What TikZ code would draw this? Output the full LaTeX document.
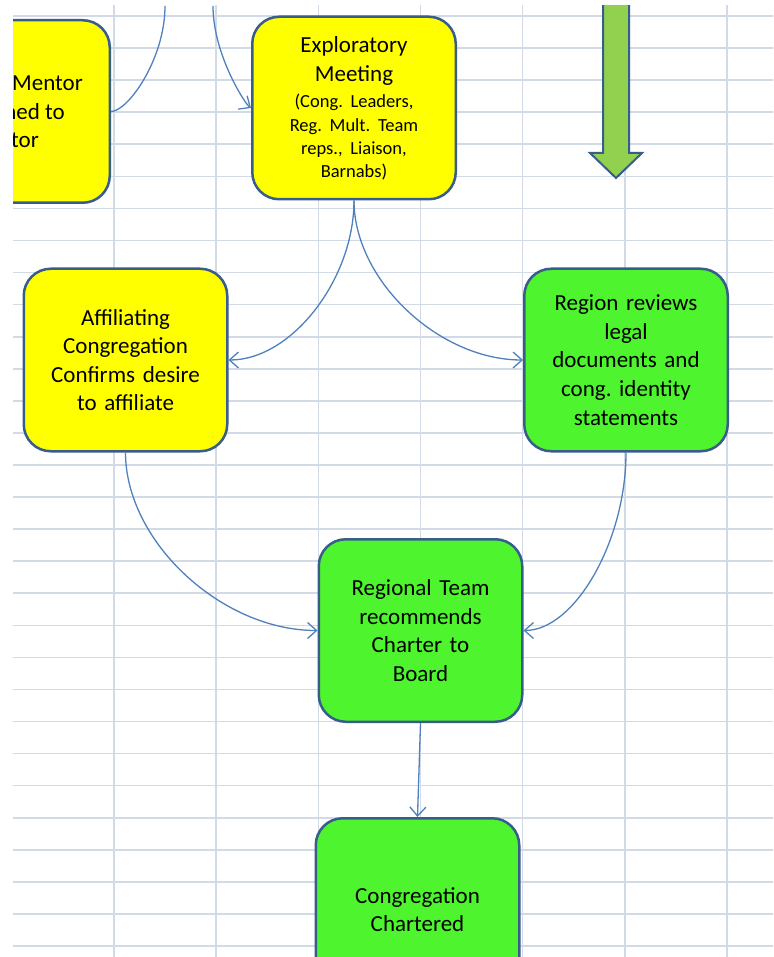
\documentclass[tikz,border=0pt]{standalone}
\usepackage{fontspec}
\setmainfont{Carlito}
\usetikzlibrary{arrows.meta}
\definecolor{gridc}{RGB}{210,217,231}
\definecolor{bordc}{RGB}{56,93,138}
\definecolor{yel}{RGB}{255,255,0}
\definecolor{grn}{RGB}{78,245,46}
\definecolor{agrn}{RGB}{146,208,80}
\definecolor{conc}{RGB}{79,129,189}
\begin{document}
\frenchspacing
\begin{tikzpicture}[x=1pt,y=-1pt,
  gridline/.style={draw=gridc,line width=1.6pt},
  box/.style={draw=bordc,line width=2.5pt,rounded corners=27pt,
    minimum width=203.5pt,minimum height=182.5pt,inner sep=0pt,
    text width=195pt,align=center,
    execute at begin node={\parindent=0pt\frenchspacing},
    font=\fontsize{23}{28.6}\selectfont},
  ybox/.style={box,fill=yel},
  gbox/.style={box,fill=grn},
  conn/.style={draw=conc,line width=1.3pt},
  arr/.style={conn,-{Straight Barb[length=9pt,width=16pt]}},
  frag/.style={anchor=base east,inner sep=0pt,font=\fontsize{23}{28.6}\selectfont},
  bigarrow/.style={draw=bordc,line width=2pt,fill=agrn,line join=miter}
]
\useasboundingbox (0,0) rectangle (773,957);
\fill[white] (0,0) rectangle (773,957);
\begin{scope}
\clip (13,6) rectangle (773,957);
% grid
\foreach \i in {0,...,6} \draw[gridline] ({114+102.17*\i},0) -- ({114+102.17*\i},960);
\foreach \j in {0,...,29} \draw[gridline] (10,{16+32.07*\j}) -- (780,{16+32.07*\j});
% big green arrow
\draw[bigarrow] (603,0) -- (603,153) -- (590,153) -- (616,178) -- (642,153) -- (629,153) -- (629,0) -- cycle;
% boxes
\node[ybox] (mentor) at (8,111.5) {};
\node[frag] (m1) at (83,90.5) {Mentor};
\node[frag] (m2) at (65,119.5) {ned to};
\node[frag] (m3) at (39,148) {tor};
\node[ybox] (explor) at (354,108) {\fontsize{18.5}{23.3}\selectfont
  \raisebox{-2.5pt}[\height][\depth]{\begin{tabular}{@{}c@{}}
  \fontsize{23}{28}\selectfont Exploratory\\[6pt]
  \fontsize{23}{28}\selectfont Meeting\\[2.7pt]
  (Cong. Leaders,\\
  Reg. Mult. Team\\
  reps., Liaison,\\
  Barnabs)
  \end{tabular}}};
\node[ybox] (affil) at (125.5,360) {Affiliating\\Congregation\\Confirms desire\\to affiliate};
\node[gbox] (region) at (626,360) {Region reviews\\legal\\documents and\\cong. identity\\statements};
\node[gbox] (regteam) at (420.5,630.5) {Regional Team\\recommends\\Charter to\\Board};
\node[gbox] (chart) at (417.5,909.5) {Congregation\\Chartered};
% free ends at the top
\coordinate (topA) at (165,6);
\coordinate (topB) at (213,6);
% connectors
\draw[conn] (mentor.east) .. controls +(17,0) and +(0,53) .. (topA);
\draw[arr] (topB) .. controls +(0,48) and +(-6,-4) .. (explor.west);
\draw[arr] (explor.south) .. controls +(0,79) and +(63,0) .. (affil.east);
\draw[arr] (explor.south) .. controls +(0,80) and +(-84,0) .. (region.west);
\draw[arr] (affil.south) .. controls +(0,89) and +(-96,0) .. (regteam.west);
\draw[arr] (region.south) .. controls +(0,89) and +(51,0) .. (regteam.east);
\draw[arr] (regteam.south) -- (chart.north);
\end{scope}
\end{tikzpicture}
\end{document}
